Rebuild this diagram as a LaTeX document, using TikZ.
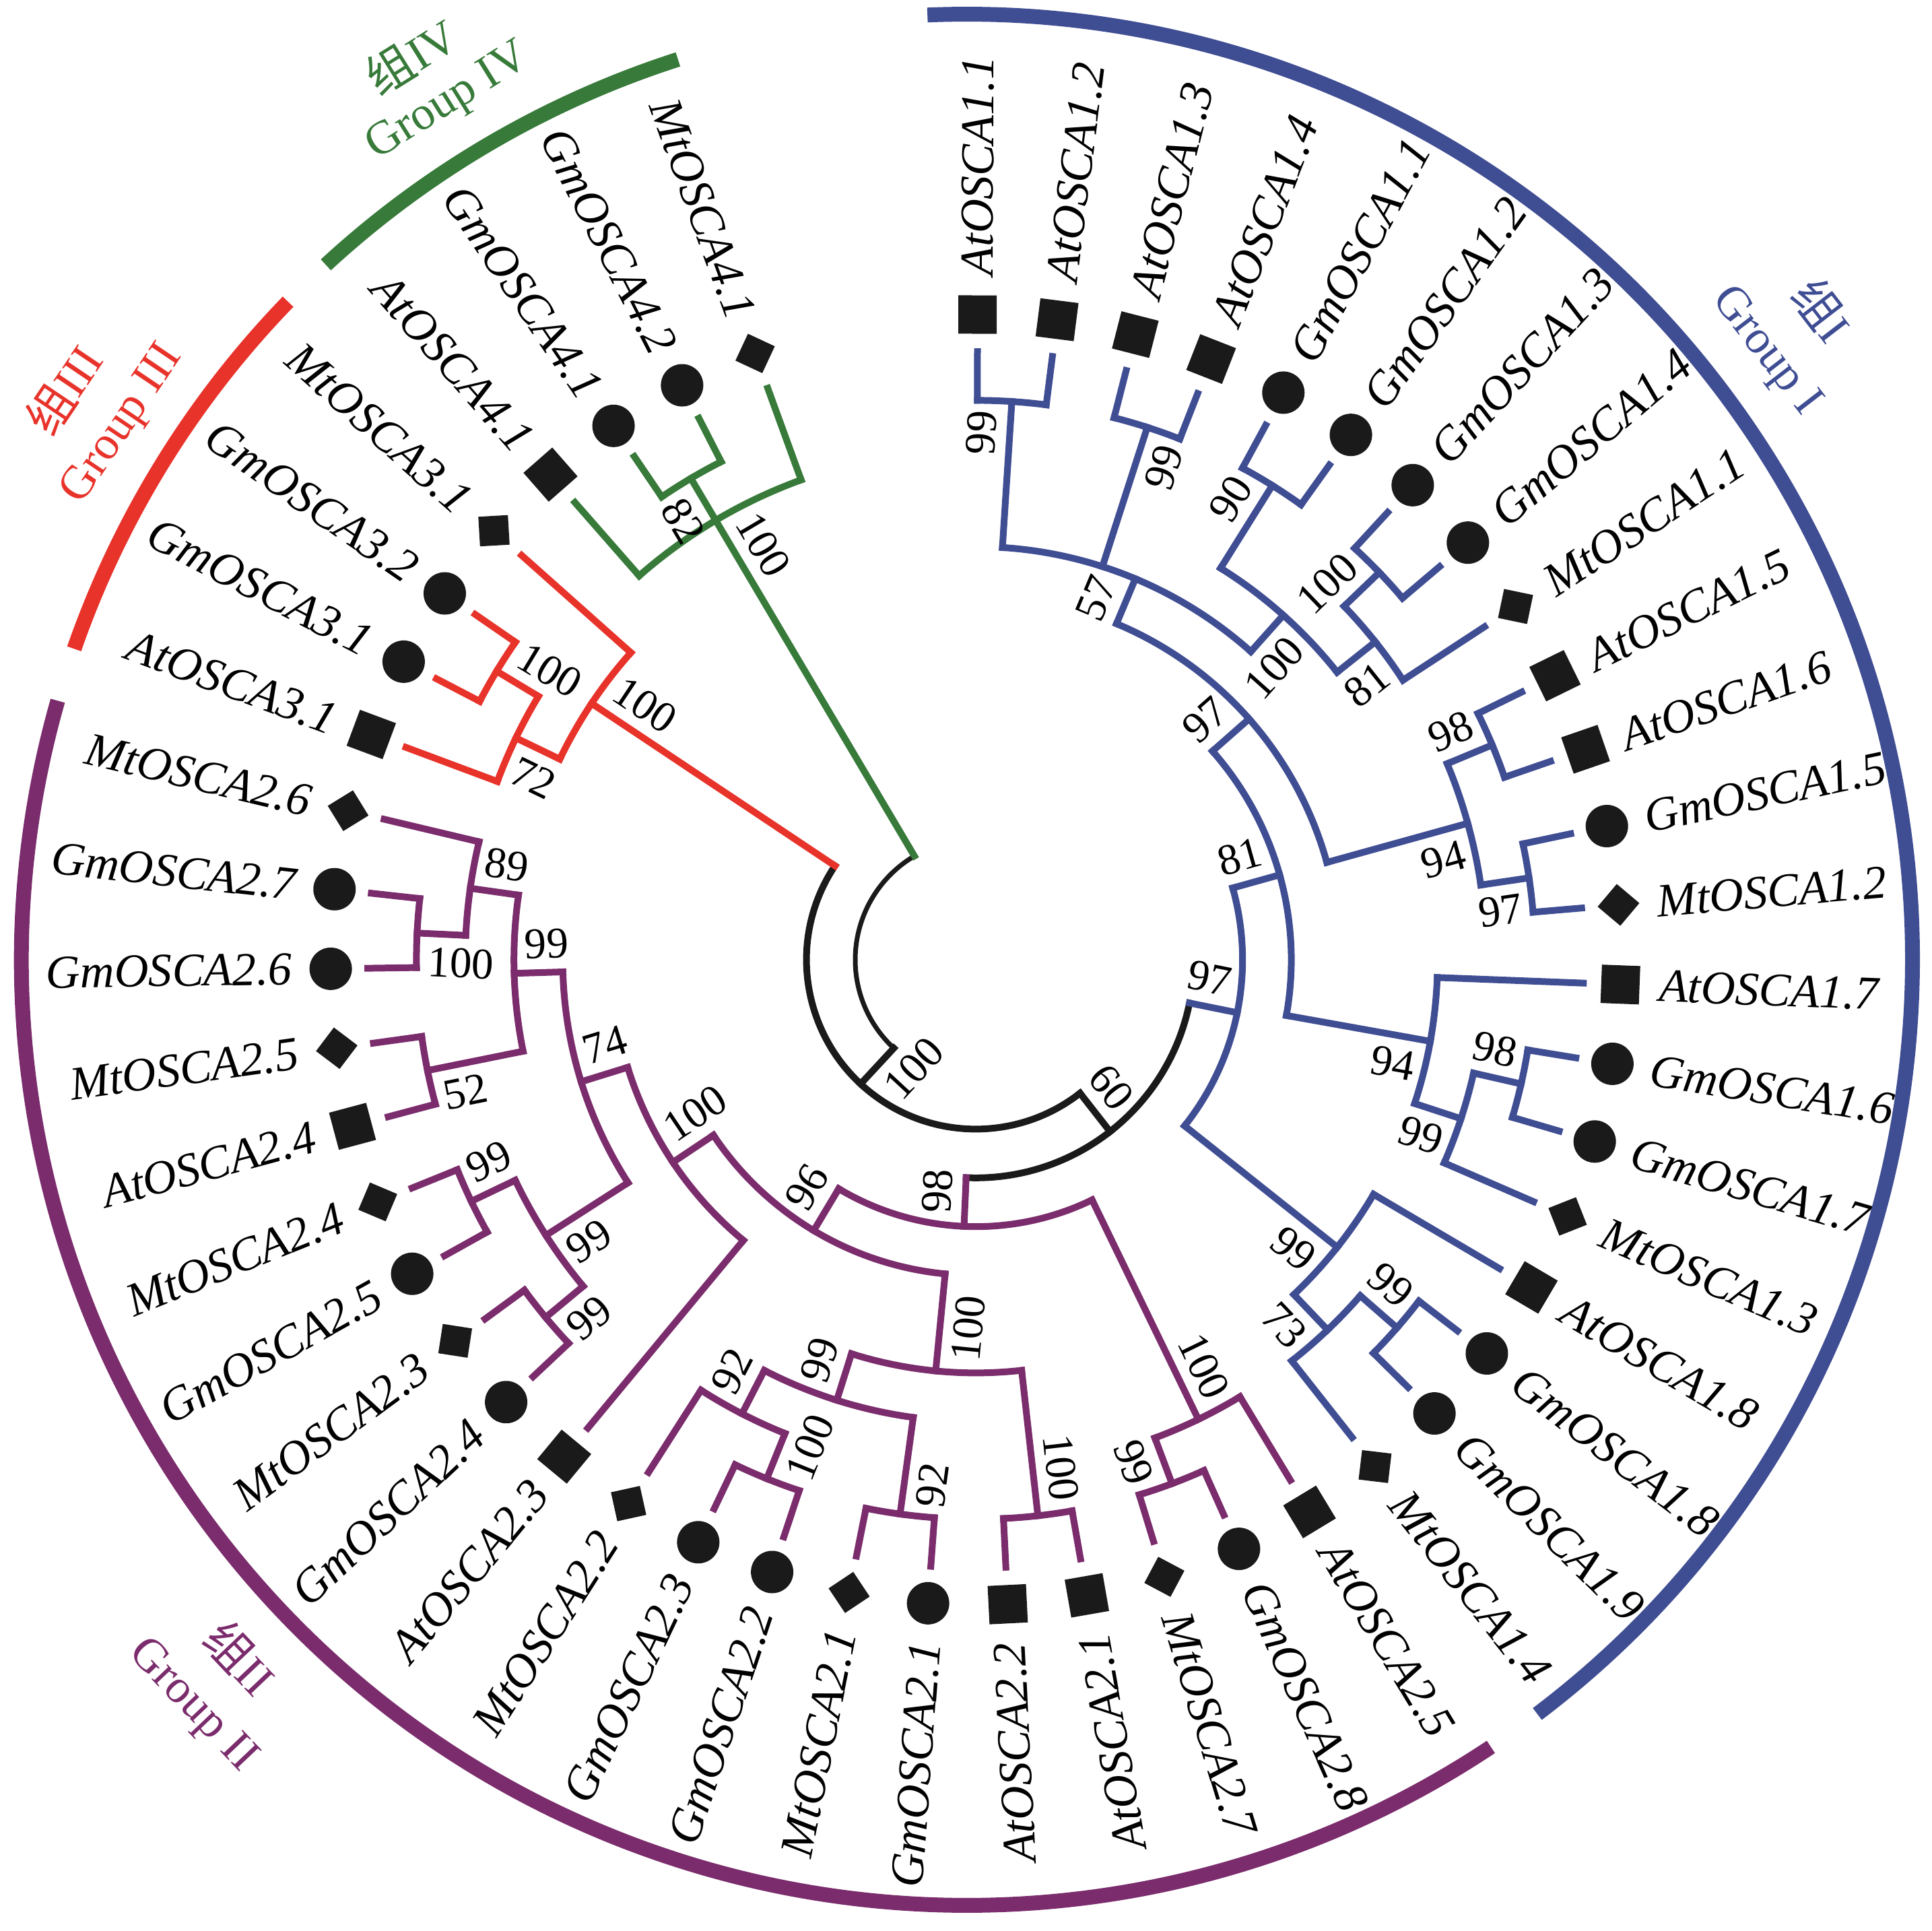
\documentclass[tikz,border=0pt]{standalone}
\usepackage{fontspec}
\setmainfont{Liberation Serif}
\newfontfamily\cjk{Noto Sans CJK SC}
\definecolor{gI}{HTML}{3F4D93}
\definecolor{gII}{HTML}{7B2C6C}
\definecolor{gIII}{HTML}{E8332B}
\definecolor{gIV}{HTML}{377A39}
\definecolor{mk}{HTML}{1A1A1A}
\tikzset{
  branch/.style={line width=1.0mm, line cap=rect},
  ring/.style={line width=2.2mm},
  atmark/.style={rectangle, fill=mk, minimum size=5.7mm, inner sep=0pt},
  gmmark/.style={circle, fill=mk, minimum size=6.3mm, inner sep=0pt},
  mtmark/.style={rectangle, fill=mk, minimum size=4.4mm, inner sep=0pt, rotate=45},
  leaf/.style={font=\fontsize{20}{24}\selectfont\itshape, inner sep=0pt},
  boot/.style={font=\fontsize{18.5}{22}\selectfont, inner sep=0pt},
  grp/.style={font=\fontsize{20}{24}\selectfont, inner sep=0pt}
}
% leaf i sits at 110+7.08*i degrees, level k at radius 9.03-0.724*k
\newcommand\arcl[4]{%
  \pgfmathsetmacro\kR{9.03-0.724*#2}
  \pgfmathsetmacro\kA{110+7.08*#3}
  \pgfmathsetmacro\kB{110+7.08*#4}
  \draw[branch,#1] (\kA:\kR) arc[start angle=\kA, end angle=\kB, radius=\kR];}
\newcommand\radl[4]{%
  \draw[branch,#1] ({110+7.08*#2}:{9.03-0.724*#3}) -- ({110+7.08*#2}:{9.03-0.724*#4});}
\newcommand\clade[5]{%
  \arcl{#1}{#2}{#3}{#4}
  \foreach \ki/\kl in {#5} {\radl{#1}{\ki}{\kl}{#2}}}
\newcommand\bsval[5]{%
  \pgfmathsetmacro\kA{110+7.08*#1}
  \pgfmathsetmacro\kD{ifthenelse(#5>99,0.66,0.48)}
  \pgfmathsetmacro\kR{9.03-0.724*#2-\kD}
  \pgfmathsetmacro\kT{\kA+(#3)*0.42/\kR*57.3}
  \pgfmathsetmacro\kO{\kA+180*#4}
  \node[boot, rotate=\kO] at (\kT:\kR) {#5};}
\begin{document}
\begin{tikzpicture}
\useasboundingbox (-14.49,-14.41) rectangle (14.20,14.25);
% group I
\clade{gI}{1}{47}{48}{47/0,48/0}
\clade{gI}{1}{45}{46}{45/0,46/0}
\clade{gI}{1}{43}{44}{43/0,44/0}
\clade{gI}{1}{41}{42}{41/0,42/0}
\clade{gI}{2}{40}{41.5}{40/0,41.5/1}
\clade{gI}{3}{40.75}{43.5}{40.75/2,43.5/1}
\clade{gI}{4}{42.125}{47.5}{42.125/3,45.5/1,47.5/1}
\clade{gI}{1}{38}{39}{38/0,39/0}
\clade{gI}{1}{36}{37}{36/0,37/0}
\clade{gI}{2}{36.5}{38.5}{36.5/1,38.5/1}
\clade{gI}{5}{37.5}{44.8125}{37.5/2,44.8125/4}
\clade{gI}{1}{33}{34}{33/0,34/0}
\clade{gI}{2}{32}{33.5}{32/0,33.5/1}
\clade{gI}{3}{32.75}{35}{32.75/2,35/0}
\clade{gI}{6}{33.875}{41.15625}{33.875/3,41.15625/5}
\clade{gI}{1}{29}{30}{29/0,30/0}
\clade{gI}{2}{28}{29.5}{28/0,29.5/1}
\clade{gI}{3}{28.75}{31}{28.75/2,31/0}
\clade{gI}{7}{29.875}{37.515625}{29.875/3,37.515625/6}
% group II
\clade{gII}{1}{9}{10}{9/0,10/0}
\clade{gII}{2}{8}{9.5}{8/0,9.5/1}
\clade{gII}{1}{11}{12}{11/0,12/0}
\clade{gII}{3}{8.75}{11.5}{8.75/2,11.5/1}
\clade{gII}{1}{13}{14}{13/0,14/0}
\clade{gII}{1}{15}{16}{15/0,16/0}
\clade{gII}{2}{13.5}{15.5}{13.5/1,15.5/1}
\clade{gII}{4}{10.125}{14.5}{10.125/3,14.5/2}
\clade{gII}{5}{12.3125}{17}{12.3125/4,17/0}
\clade{gII}{1}{19}{20}{19/0,20/0}
\clade{gII}{2}{18}{19.5}{18/0,19.5/1}
\clade{gII}{1}{21}{22}{21/0,22/0}
\clade{gII}{3}{18.75}{21.5}{18.75/2,21.5/1}
\clade{gII}{1}{23}{24}{23/0,24/0}
\clade{gII}{4}{20.125}{23.5}{20.125/3,23.5/1}
\clade{gII}{6}{14.65625}{21.8125}{14.65625/5,21.8125/4}
\clade{gII}{1}{25}{26}{25/0,26/0}
\clade{gII}{2}{25.5}{27}{25.5/1,27/0}
\clade{gII}{7}{18.234375}{26.25}{18.234375/6,26.25/2}
% groups III and IV
\clade{gIII}{1}{5}{6}{5/0,6/0}
\clade{gIII}{2}{5.5}{7}{5.5/1,7/0}
\clade{gIII}{3}{4}{6.25}{4/0,6.25/2}
\clade{gIV}{1}{1}{2}{1/0,2/0}
\clade{gIV}{2}{0}{3}{0/0,1.5/1,3/0}
% backbone
\arcl{mk}{8}{22.2421875}{33.6953125}
\radl{gII}{22.2421875}{7}{8}
\radl{gI}{33.6953125}{7}{8}
\arcl{mk}{9}{5.125}{27.96875}
\radl{gIII}{5.125}{3}{9}
\radl{mk}{27.96875}{8}{9}
\arcl{mk,line width=0.7mm}{10}{1.5}{16.546875}
\radl{gIV}{1.5}{2}{10}
\radl{mk}{16.546875}{9}{10}
% leaves
\foreach \i/\n/\s in {0/MtOSCA4.1/mtmark, 1/GmOSCA4.2/gmmark, 2/GmOSCA4.1/gmmark,
  3/AtOSCA4.1/atmark, 4/MtOSCA3.1/mtmark, 5/GmOSCA3.2/gmmark, 6/GmOSCA3.1/gmmark,
  7/AtOSCA3.1/atmark, 8/MtOSCA2.6/mtmark, 9/GmOSCA2.7/gmmark, 10/GmOSCA2.6/gmmark,
  11/MtOSCA2.5/mtmark, 12/AtOSCA2.4/atmark, 13/MtOSCA2.4/mtmark, 14/GmOSCA2.5/gmmark,
  15/MtOSCA2.3/mtmark, 16/GmOSCA2.4/gmmark, 17/AtOSCA2.3/atmark, 18/MtOSCA2.2/mtmark,
  19/GmOSCA2.3/gmmark, 20/GmOSCA2.2/gmmark, 21/MtOSCA2.1/mtmark, 22/GmOSCA2.1/gmmark,
  23/AtOSCA2.2/atmark, 24/AtOSCA2.1/atmark, 25/MtOSCA2.7/mtmark, 26/GmOSCA2.8/gmmark,
  27/AtOSCA2.5/atmark, 28/MtOSCA1.4/mtmark, 29/GmOSCA1.9/gmmark, 30/GmOSCA1.8/gmmark,
  31/AtOSCA1.8/atmark, 32/MtOSCA1.3/mtmark, 33/GmOSCA1.7/gmmark, 34/GmOSCA1.6/gmmark,
  35/AtOSCA1.7/atmark, 36/MtOSCA1.2/mtmark, 37/GmOSCA1.5/gmmark, 38/AtOSCA1.6/atmark,
  39/AtOSCA1.5/atmark, 40/MtOSCA1.1/mtmark, 41/GmOSCA1.4/gmmark, 42/GmOSCA1.3/gmmark,
  43/GmOSCA1.2/gmmark, 44/GmOSCA1.1/gmmark, 45/AtOSCA1.4/atmark, 46/AtOSCA1.3/atmark,
  47/AtOSCA1.2/atmark, 48/AtOSCA1.1/atmark}{
  \pgfmathsetmacro\kA{110+7.08*\i}
  \node[\s, rotate=\kA] (m\i) at (\kA:9.58) {};
  \ifnum\i<25
    \node[leaf, rotate=\kA-180, anchor=east] (t\i) at (\kA:10.15) {\n};
  \else
    \node[leaf, rotate=\kA, anchor=west] (t\i) at (\kA:10.15) {\n};
  \fi
}
% bootstrap values
\foreach \a/\b/\c/\d/\e in {47.5/1/1/0/99, 45.5/1/-1/0/99, 44.8125/4/1/0/57,
  42.125/3/-1/0/100, 43.5/1/1/0/90, 40.75/2/-1/0/81, 41.5/1/1/0/100, 38.5/1/1/0/98,
  36.5/1/-1/0/97, 37.5/2/-1/0/94, 41.15625/5/1/0/97, 33.5/1/1/0/98, 32.75/2/-1/0/99,
  33.875/3/-1/0/94, 37.515625/6/1/0/81, 29.5/1/1/0/99, 28.75/2/-1/0/73,
  29.875/3/-1/0/99, 33.6953125/7/1/0/97,
  9.5/1/1/1/100, 8.75/2/-1/1/89, 11.5/1/1/1/52, 10.125/3/-1/1/99, 13.5/1/-1/1/99,
  15.5/1/1/1/99, 14.5/2/1/1/99, 12.3125/4/-1/1/74, 14.65625/5/-1/1/100,
  19.5/1/1/1/100, 18.75/2/-1/1/92, 21.5/1/1/1/92, 20.125/3/-1/1/99, 23.5/1/1/0/100,
  21.8125/4/1/1/100, 18.234375/6/-1/1/96, 25.5/1/-1/0/99, 26.25/2/1/0/100,
  22.2421875/7/-1/1/98, 5.5/1/-1/1/100, 6.25/2/1/1/72, 5.125/3/-1/1/100,
  1.5/1/1/1/82, 1.5/2/-1/1/100, 27.96875/8/1/0/60, 16.546875/9/1/1/100}
  {\bsval{\a}{\b}{\c}{\d}{\e}}
% group rings and names
\draw[ring,gIV] ([shift={(-0.13,0)}]107.8:14.04) arc[start angle=107.8, end angle=132.7, radius=14.04];
\draw[ring,gIII] ([shift={(-0.13,0)}]135.9:14.04) arc[start angle=135.9, end angle=160.8, radius=14.04];
\draw[ring,gII] ([shift={(-0.13,0)}]164.1:14.04) arc[start angle=164.1, end angle=303.65, radius=14.04];
\draw[ring,gI] ([shift={(-0.13,0)}]307.1:14.04) arc[start angle=307.1, end angle=452.4, radius=14.04];
\node[grp,gIV,rotate=32] (cn4) at (122.0:15.83) {{\cjk 组}IV};
\node[grp,gIV,rotate=32] (en4) at (121.6:14.94) {Group IV};
\node[grp,gIII,rotate=56] (cn3) at (148.0:15.98) {{\cjk 组}III};
\node[grp,gIII,rotate=56] (en3) at (147.9:14.95) {Group III};
\node[grp,gI,rotate=-52.4] (cn1) at (37.5:15.85) {{\cjk 组}I};
\node[grp,gI,rotate=-52.4] (en1) at (37.6:14.80) {Group I};
\node[grp,gII,rotate=-46.5] (cn2) at (223.5:15.05) {{\cjk 组}II};
\node[grp,gII,rotate=-46.5] (en2) at (223.6:16.07) {Group II};
\end{tikzpicture}
\end{document}
